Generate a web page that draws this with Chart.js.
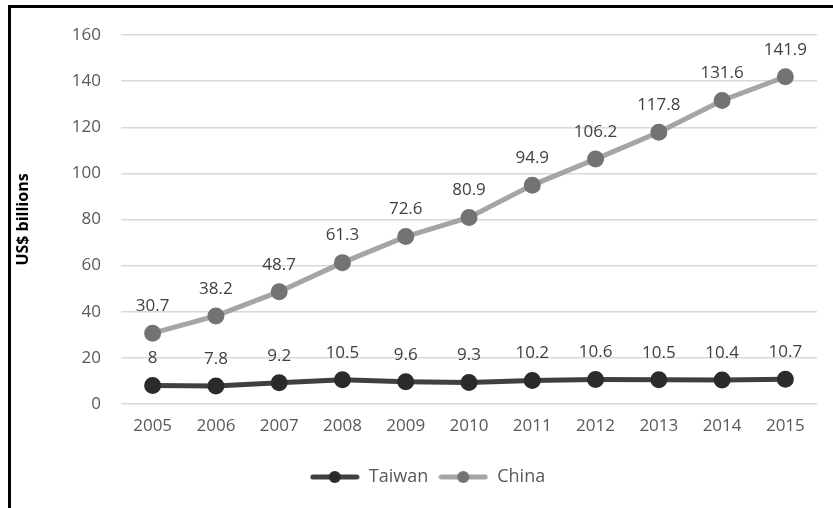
<!DOCTYPE html>
<html>
<head>
<meta charset="utf-8">
<script src="https://cdn.jsdelivr.net/npm/chart.js@4.4.1/dist/chart.umd.min.js"></script>
<style>
  html, body { margin: 0; padding: 0; background: #fff; }
  #wrap { position: relative; width: 833px; height: 508px; }
  #frame { position: absolute; left: 8px; top: 5px; right: 0; bottom: 0;
           border-top: 3px solid #000; border-left: 3px solid #000; pointer-events: none; }
  canvas { position: absolute; left: 0; top: 0; }
</style>
</head>
<body>
<div id="wrap">
  <canvas id="myChart" width="833" height="508"></canvas>
  <div id="frame"></div>
</div>
<script>
const years = ['2005', '2006', '2007', '2008', '2009', '2010', '2011', '2012', '2013', '2014', '2015'];
const taiwan = [8, 7.8, 9.2, 10.5, 9.6, 9.3, 10.2, 10.6, 10.5, 10.4, 10.7];
const china = [30.7, 38.2, 48.7, 61.3, 72.6, 80.9, 94.9, 106.2, 117.8, 131.6, 141.9];

const fontFamily = '"Open Sans", "Noto Sans", sans-serif';

// legend marker: a short thick line with a dot in the middle
function legendIcon(lineColor, dotColor) {
    const c = document.createElement('canvas');
    c.width = 50;
    c.height = 14;
    const g = c.getContext('2d');
    g.strokeStyle = lineColor;
    g.lineWidth = 5;
    g.lineCap = 'round';
    g.beginPath();
    g.moveTo(3, 7);
    g.lineTo(47, 7);
    g.stroke();
    g.fillStyle = dotColor;
    g.beginPath();
    g.arc(25, 7, 6, 0, Math.PI * 2);
    g.fill();
    return c;
}

const valueLabels = {
    id: 'valueLabels',
    afterLayout(chart) {
        // nudge the legend to the right like the original
        chart.legend.left += 12;
        chart.legend.right += 12;
    },
    afterDatasetsDraw(chart) {
        const c = chart.ctx;
        c.save();
        c.font = '17px ' + fontFamily;
        c.fillStyle = '#404040';
        c.textAlign = 'center';
        c.textBaseline = 'middle';
        chart.data.datasets.forEach((ds, i) => {
            chart.getDatasetMeta(i).data.forEach((pt, j) => {
                c.fillText(String(ds.data[j]), pt.x, pt.y - 27);
            });
        });
        c.restore();
    }
};

const ctx = document.getElementById('myChart').getContext('2d');

const myChart = new Chart(ctx, {
    type: 'line',
    data: {
        labels: years,
        datasets: [{
            label: 'Taiwan',
            data: taiwan,
            borderColor: '#404040',
            backgroundColor: '#2b2b2b',
            pointBackgroundColor: '#2b2b2b',
            pointBorderColor: '#2b2b2b',
            borderWidth: 5,
            pointRadius: 6,
            pointStyle: 'circle',
            tension: 0,
            fill: false
        }, {
            label: 'China',
            data: china,
            borderColor: '#a5a5a5',
            backgroundColor: '#737373',
            pointBackgroundColor: '#737373',
            pointBorderColor: '#737373',
            borderWidth: 5,
            pointRadius: 6,
            pointStyle: 'circle',
            tension: 0,
            fill: false
        }]
    },
    options: {
        responsive: false,
        animation: false,
        layout: { padding: { left: 14, right: 16, top: 35, bottom: 12 } },
        scales: {
            x: {
                offset: true,
                grid: { display: false, drawTicks: false },
                border: { display: false },
                ticks: { color: '#595959', font: { family: fontFamily, size: 17 }, padding: 12 },
                afterFit: (s) => { s.height = 54; }
            },
            y: {
                min: 0,
                max: 160,
                ticks: { stepSize: 20, color: '#595959', font: { family: fontFamily, size: 17 }, padding: 20 },
                grid: { color: '#d9d9d9', lineWidth: 1.5, drawTicks: false },
                border: { display: false },
                title: {
                    display: true,
                    text: 'US$ billions',
                    color: '#000',
                    font: { family: fontFamily, size: 16, weight: 'bold' },
                    padding: { top: 0, bottom: 4 }
                },
                afterFit: (s) => { s.width = 107; }
            }
        },
        plugins: {
            legend: {
                position: 'bottom',
                labels: {
                    color: '#595959',
                    font: { family: fontFamily, size: 18 },
                    usePointStyle: true,
                    pointStyleWidth: 50,
                    padding: 10,
                    generateLabels: (chart) => chart.data.datasets.map((ds, i) => ({
                        text: ds.label,
                        datasetIndex: i,
                        fontColor: '#595959',
                        pointStyle: legendIcon(ds.borderColor, ds.pointBackgroundColor),
                        lineWidth: 0,
                        strokeStyle: 'rgba(0,0,0,0)',
                        fillStyle: 'rgba(0,0,0,0)'
                    }))
                }
            },
            tooltip: { enabled: false }
        }
    },
    plugins: [valueLabels]
});
</script>
</body>
</html>
